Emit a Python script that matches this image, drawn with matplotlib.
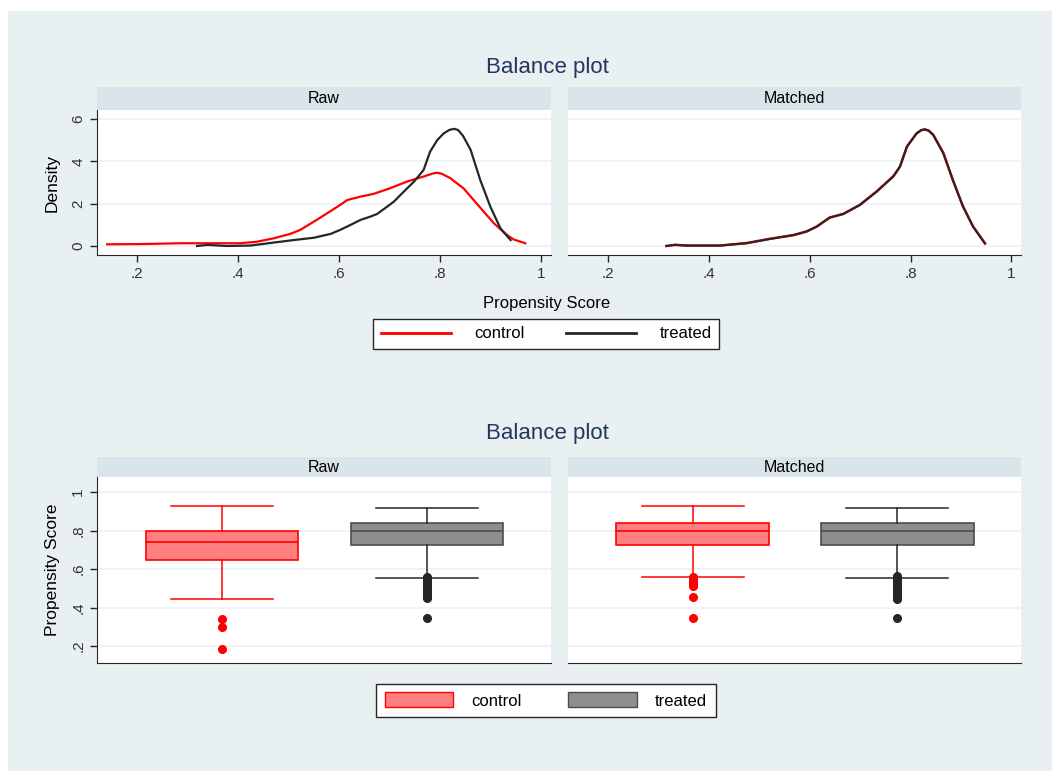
import matplotlib.pyplot as plt
from matplotlib.patches import Rectangle, Patch
from matplotlib.lines import Line2D

plt.rcParams['font.family'] = ['Liberation Sans', 'DejaVu Sans']

# ---- density curves ----
raw_ctrl_x = [0.141, 0.207, 0.286, 0.378, 0.404, 0.437, 0.470, 0.503, 0.523, 0.550, 0.576,
              0.602, 0.616, 0.642, 0.668, 0.700, 0.734, 0.767, 0.785, 0.794, 0.803, 0.820, 0.846,
              0.866, 0.886, 0.906, 0.932, 0.945, 0.968]
raw_ctrl_y = [0.08, 0.09, 0.13, 0.13, 0.13, 0.20, 0.36, 0.57, 0.76, 1.15, 1.54,
              1.94, 2.17, 2.33, 2.46, 2.72, 3.04, 3.28, 3.42, 3.46, 3.41, 3.20, 2.72,
              2.17, 1.62, 1.07, 0.52, 0.31, 0.13]

raw_treat_x = [0.319, 0.339, 0.378, 0.424, 0.470, 0.510, 0.550, 0.583, 0.602, 0.622, 0.642,
               0.662, 0.675, 0.695, 0.708, 0.728, 0.748, 0.767, 0.780, 0.794, 0.807, 0.818, 0.827,
               0.835, 0.845, 0.860, 0.879, 0.899, 0.919, 0.939]
raw_treat_y = [0.00, 0.05, 0.00, 0.02, 0.16, 0.28, 0.39, 0.57, 0.76, 0.99, 1.23,
               1.39, 1.51, 1.86, 2.09, 2.57, 3.04, 3.59, 4.46, 5.00, 5.32, 5.48, 5.53,
               5.48, 5.20, 4.54, 3.12, 1.86, 0.83, 0.28]

mat_treat_x = [0.316, 0.333, 0.356, 0.422, 0.475, 0.521, 0.568, 0.594, 0.614, 0.640, 0.667,
               0.700, 0.733, 0.766, 0.779, 0.793, 0.812, 0.821, 0.828, 0.836, 0.845, 0.865, 0.884, 0.904,
               0.924, 0.947]
mat_treat_y = [0.00, 0.06, 0.02, 0.02, 0.13, 0.33, 0.52, 0.68, 0.91, 1.35, 1.51,
               1.94, 2.57, 3.28, 3.75, 4.69, 5.32, 5.47, 5.51, 5.44, 5.24, 4.38, 3.12, 1.86,
               0.91, 0.13]

mat_ctrl_x = [0.316, 0.333, 0.356, 0.422, 0.475, 0.521, 0.568, 0.594, 0.614, 0.640, 0.667,
              0.700, 0.733, 0.766, 0.779, 0.793, 0.812, 0.821, 0.828, 0.836, 0.845, 0.865, 0.884, 0.904,
              0.924, 0.948]
mat_ctrl_y = [0.00, 0.05, 0.02, 0.02, 0.14, 0.34, 0.51, 0.69, 0.92, 1.34, 1.52,
              1.95, 2.58, 3.30, 3.74, 4.70, 5.31, 5.46, 5.50, 5.45, 5.25, 4.40, 3.10, 1.87,
              0.92, 0.12]

# ---- box plot summaries ----
raw_ctrl_box = dict(whislo=0.443, q1=0.647, med=0.740, q3=0.800, whishi=0.927,
                    fliers=[0.343, 0.300, 0.184])
raw_treat_box = dict(whislo=0.553, q1=0.727, med=0.800, q3=0.841, whishi=0.919,
                     fliers=[0.560, 0.555, 0.550, 0.545, 0.540, 0.535, 0.530, 0.520, 0.510,
                             0.500, 0.490, 0.480, 0.470, 0.460, 0.455, 0.450, 0.346])
mat_ctrl_box = dict(whislo=0.561, q1=0.727, med=0.800, q3=0.841, whishi=0.929,
                    fliers=[0.557, 0.550, 0.540, 0.530, 0.520, 0.510, 0.455, 0.344])
mat_treat_box = dict(whislo=0.553, q1=0.727, med=0.800, q3=0.841, whishi=0.919,
                     fliers=[0.562, 0.555, 0.550, 0.540, 0.530, 0.520, 0.510, 0.500,
                             0.490, 0.480, 0.470, 0.460, 0.450, 0.445, 0.346])

x_ticks = [0.2, 0.4, 0.6, 0.8, 1.0]
x_labels = ['.2', '.4', '.6', '.8', '1']
dens_ticks = [0, 2, 4, 6]
dens_labels = ['0', '2', '4', '6']
ps_ticks = [0.2, 0.4, 0.6, 0.8, 1.0]
ps_labels = ['.2', '.4', '.6', '.8', '1']
groups = ['control', 'treated']

W, H = 1052, 771
BG = '#E8F0F2'
HDR = '#D9E5EA'
GRID = '#EAF2F3'
TXT = '#333333'
RED = '#FF0000'
DARK = '#262626'

fig = plt.figure(figsize=(W / 100, H / 100), dpi=100, facecolor='white')
fig.patches.append(Rectangle((8 / W, 0), 1, 1 - 11 / H, transform=fig.transFigure,
                             facecolor=BG, edgecolor='none', zorder=-10))


def rect(x0, y0, x1, y1):
    return [x0 / W, 1 - y1 / H, (x1 - x0) / W, (y1 - y0) / H]


def style(ax, title, hdr_h, left):
    ax.set_facecolor('white')
    for s in ['top', 'right']:
        ax.spines[s].set_visible(False)
    ax.spines['left'].set_visible(left)
    ax.spines['bottom'].set_color(DARK)
    ax.spines['left'].set_color(DARK)
    ax.yaxis.grid(True, color=GRID, lw=1.2)
    ax.set_axisbelow(True)
    ax.tick_params(colors=DARK, labelcolor=TXT, labelsize=11, length=5, width=1)
    ax.add_patch(Rectangle((0, 1), 1, hdr_h, transform=ax.transAxes, clip_on=False,
                           facecolor=HDR, edgecolor='none'))
    ax.text(0.5, 1 + hdr_h / 2, title, transform=ax.transAxes, ha='center', va='center',
            fontsize=11.5, color='black')


# ---- top row: densities ----
ax1 = fig.add_axes(rect(97, 110, 551, 255))
ax2 = fig.add_axes(rect(568, 110, 1021, 255))
for ax, title, left in [(ax1, 'Raw', True), (ax2, 'Matched', False)]:
    style(ax, title, 23 / 145, left)
    ax.set_xlim(0.121, 1.019)
    ax.set_ylim(-0.425, 6.42)
    ax.set_xticks(x_ticks, x_labels)
    ax.set_yticks(dens_ticks, dens_labels if left else [])
    if left:
        for lab in ax.get_yticklabels():
            lab.set_rotation(90)
            lab.set_va('center')
    else:
        ax.tick_params(axis='y', length=0)

ax1.plot(raw_ctrl_x, raw_ctrl_y, color=RED, lw=1.6)
ax1.plot(raw_treat_x, raw_treat_y, color=DARK, lw=1.6)
ax2.plot(mat_ctrl_x, mat_ctrl_y, color=RED, lw=1.8)
ax2.plot(mat_treat_x, mat_treat_y, color=DARK, lw=1.5)
ax1.set_ylabel('Density', fontsize=12.5, labelpad=8)

fig.text(547 / W, 1 - 304 / H, 'Propensity Score', ha='center', va='center', fontsize=12)
fig.text(547 / W, 1 - 67 / H, 'Balance plot', ha='center', va='center', fontsize=16, color='#24365F')
fig.text(547 / W, 1 - 433 / H, 'Balance plot', ha='center', va='center', fontsize=16, color='#24365F')

fig.legend(handles=[Line2D([], [], color=RED, lw=2), Line2D([], [], color=DARK, lw=2)],
           labels=groups, loc='center', bbox_to_anchor=(546 / W, 1 - 334 / H), ncol=2,
           fontsize=12, frameon=True, fancybox=False, edgecolor=DARK, framealpha=1,
           handlelength=4.2, handletextpad=1.4, columnspacing=2.5, borderpad=0.45)

# ---- bottom row: box plots ----
ax3 = fig.add_axes(rect(97, 477, 551, 663))
ax4 = fig.add_axes(rect(568, 477, 1021, 663))
pairs = [(ax3, 'Raw', True, raw_ctrl_box, raw_treat_box),
         (ax4, 'Matched', False, mat_ctrl_box, mat_treat_box)]
for ax, title, left, cbox, tbox in pairs:
    style(ax, title, 20 / 186, left)
    for pos, st, fc, ec, lc in [(1, cbox, '#FF8080', RED, RED), (2, tbox, '#8E8E8E', '#4D4D4D', DARK)]:
        ax.bxp([st], positions=[pos], widths=0.746, capwidths=0.5, patch_artist=True,
               boxprops=dict(facecolor=fc, edgecolor=ec, lw=1.2),
               medianprops=dict(color=ec, lw=1.2),
               whiskerprops=dict(color=lc, lw=1.1),
               capprops=dict(color=lc, lw=1.1),
               flierprops=dict(marker='o', markerfacecolor=lc, markeredgecolor=lc, markersize=5.5))
    ax.set_xlim(0.39, 2.605)
    ax.set_ylim(0.112, 1.078)
    ax.set_xticks([])
    ax.set_yticks(ps_ticks, ps_labels if left else [])
    if left:
        for lab in ax.get_yticklabels():
            lab.set_rotation(90)
            lab.set_va('center')
    else:
        ax.tick_params(axis='y', length=0)
ax3.set_ylabel('Propensity Score', fontsize=12.5, labelpad=8)

fig.legend(handles=[Patch(facecolor='#FF8080', edgecolor=RED), Patch(facecolor='#8E8E8E', edgecolor='#4D4D4D')],
           labels=groups, loc='center', bbox_to_anchor=(546 / W, 1 - 700.5 / H), ncol=2,
           fontsize=12, frameon=True, fancybox=False, edgecolor=DARK, framealpha=1,
           handlelength=4.1, handleheight=1.0, handletextpad=1.1, columnspacing=2.8, borderpad=0.5)

fig.savefig('out.png', dpi=100, facecolor=fig.get_facecolor())
